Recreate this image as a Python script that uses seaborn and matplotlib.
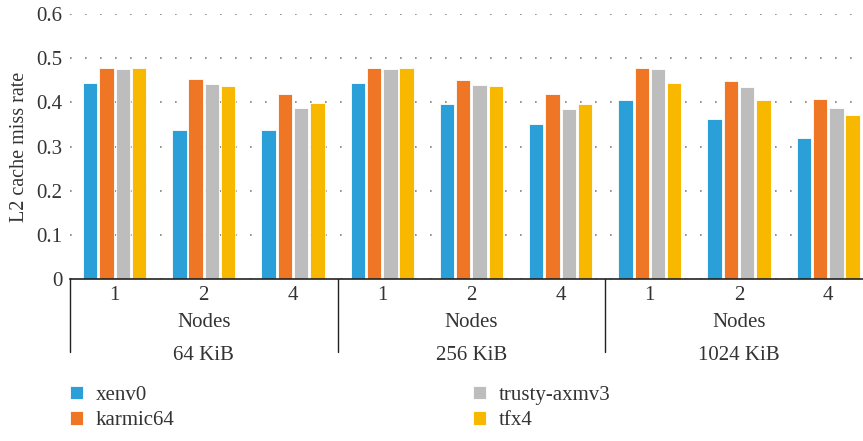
import numpy as np
import pandas as pd
import matplotlib
matplotlib.use("Agg")
import matplotlib.pyplot as plt
from matplotlib.ticker import FuncFormatter
import seaborn as sns

# cache sizes / node counts / systems
sizes = ["64 KiB", "256 KiB", "1024 KiB"]
nodes = ["1", "2", "4"]
systems = ["xenv0", "karmic64", "trusty-axmv3", "tfx4"]

# L2 cache miss rate, ordered 64K(1,2,4), 256K(1,2,4), 1024K(1,2,4)
xenv0 = [0.445, 0.337, 0.337, 0.443, 0.397, 0.352, 0.405, 0.362, 0.319]
karmic64 = [0.479, 0.452, 0.418, 0.479, 0.451, 0.419, 0.479, 0.448, 0.408]
trusty_axmv3 = [0.476, 0.441, 0.388, 0.476, 0.439, 0.386, 0.475, 0.436, 0.387]
tfx4 = [0.478, 0.438, 0.399, 0.477, 0.437, 0.397, 0.444, 0.406, 0.371]

colors = ["#2A9FD8", "#EE7625", "#BDBDBD", "#F9B800"]

clusters = [s + "|" + n for s in sizes for n in nodes]
rows = []
for sys_name, vals in zip(systems, [xenv0, karmic64, trusty_axmv3, tfx4]):
    for c, v in zip(clusters, vals):
        rows.append({"cluster": c, "system": sys_name, "rate": v})
df = pd.DataFrame(rows)

sns.set_style("white")
plt.rcParams["font.family"] = ["Liberation Serif", "DejaVu Serif"]
plt.rcParams["text.color"] = "#333333"

fig = plt.figure(figsize=(8.63, 4.41), dpi=100)
ax = fig.add_axes([0.0811, 0.3673, 1.0 - 0.0811, 0.968 - 0.3673])

sns.barplot(data=df, x="cluster", y="rate", hue="system", order=clusters,
            hue_order=systems, palette=colors, width=0.73, gap=0.12,
            edgecolor="white", linewidth=0.6, saturation=1, ax=ax,
            legend=True)

ax.set_ylim(0, 0.6)
ax.set_xlim(-0.5, 8.39)
ax.set_yticks(np.arange(0, 0.61, 0.1))
ax.yaxis.set_major_formatter(FuncFormatter(lambda v, p: "0" if v == 0 else f"{v:.1f}"))
ax.set_axisbelow(True)
ax.yaxis.grid(True, color="#808080", linestyle=(0, (1, 8)), linewidth=1.2)
for s in ["left", "top", "right"]:
    ax.spines[s].set_visible(False)
ax.spines["bottom"].set_color("#222222")
ax.spines["bottom"].set_linewidth(1.2)
ax.tick_params(axis="both", length=0, labelsize=15, colors="#333333")
ax.tick_params(axis="x", pad=5)
ax.tick_params(axis="y", pad=5.5)
ax.set_xticks(range(len(clusters)))
ax.set_xticklabels([c.split("|")[1] for c in clusters])
ax.set_xlabel("")
ax.set_ylabel("L2 cache miss rate", fontsize=14.5, color="#333333", labelpad=5)

trans = ax.get_xaxis_transform()
for i, s in enumerate(sizes):
    center = i * 3 + 1
    ax.text(center, -0.166, "Nodes", transform=trans, ha="center", va="center", fontsize=15)
    ax.text(center, -0.29, s, transform=trans, ha="center", va="center", fontsize=15)
for xd in [-0.5, 2.5, 5.5, 8.5]:
    ax.plot([xd, xd], [0, -0.275], transform=trans, color="#222222", lw=1.0, clip_on=False)

handles, labels = ax.get_legend_handles_labels()
ax.legend(handles, labels, ncol=2, loc="upper left", bbox_to_anchor=(0.0811, 0.125),
          bbox_transform=fig.transFigure, frameon=False, fontsize=15,
          handlelength=0.62, handleheight=0.62, handletextpad=0.63,
          labelspacing=0.3, columnspacing=14.3, borderaxespad=0, borderpad=0)

fig.savefig("out.png", dpi=100)
